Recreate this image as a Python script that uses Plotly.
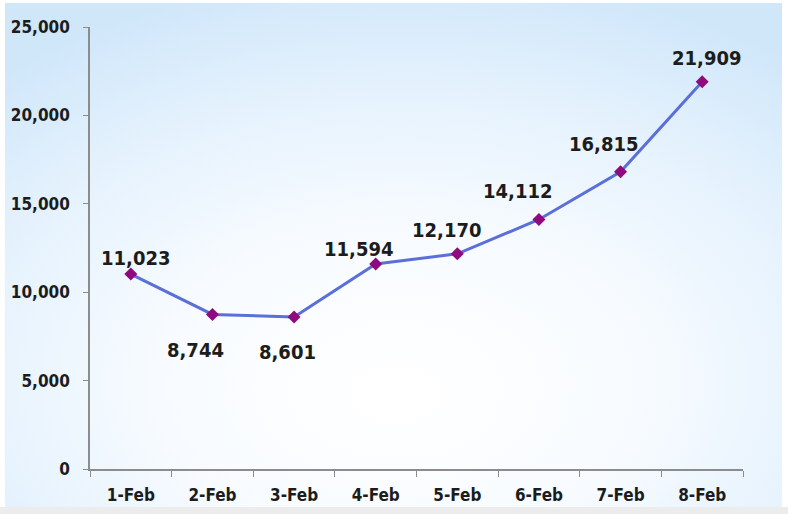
import base64
import plotly.graph_objects as go

dates = ["1-Feb", "2-Feb", "3-Feb", "4-Feb", "5-Feb", "6-Feb", "7-Feb", "8-Feb"]
values = [11023, 8744, 8601, 11594, 12170, 14112, 16815, 21909]
y_ticks = [0, 5000, 10000, 15000, 20000, 25000]
y_tick_text = ["0", "5,000", "10,000", "15,000", "20,000", "25,000"]

# label placement offsets (pixels) relative to each point, as in the reference
label_dx = [5, -17, -7, -17, -11, -21, -17, 4]
label_dy = [16, -36, -35, 15, 24, 29, 28, 24]

font_family = "DejaVu Sans Condensed, DejaVu Sans, sans-serif"
text_color = "#1c1c1c"

# background gradient as an inline SVG
svg = """<svg xmlns='http://www.w3.org/2000/svg' width='777' height='504' viewBox='0 0 777 504' preserveAspectRatio='none'>
<defs>
<radialGradient id='g' cx='0.52' cy='0.72' r='0.78' fx='0.5' fy='0.78'>
<stop offset='0' stop-color='#ffffff'/>
<stop offset='0.4' stop-color='#f7fbff'/>
<stop offset='0.72' stop-color='#e5f2fd'/>
<stop offset='1' stop-color='#d0e7fa'/>
</radialGradient>
</defs>
<rect width='777' height='504' fill='url(#g)'/>
</svg>"""
svg_uri = "data:image/svg+xml;base64," + base64.b64encode(svg.encode()).decode()

fig = go.Figure()
fig.add_trace(go.Scatter(
    x=dates, y=values, mode="lines+markers",
    line=dict(color="#5b6fd8", width=3),
    marker=dict(symbol="diamond", size=10, color="#8e0a7e"),
    cliponaxis=False,
    hoverinfo="skip",
))

for d, v, dx, dy in zip(dates, values, label_dx, label_dy):
    fig.add_annotation(
        x=d, y=v, text=f"{v:,}", showarrow=False,
        xshift=dx, yshift=dy,
        font=dict(family=font_family, size=20, color=text_color, weight="bold"),
    )

fig.add_layout_image(
    source=svg_uri, xref="paper", yref="paper",
    x=-0.1302, y=1.0543, sizex=1.19, sizey=1.1403,
    xanchor="left", yanchor="top", sizing="stretch", layer="below",
)
fig.add_shape(type="rect", xref="paper", yref="paper",
              x0=-0.2, x1=1.2, y0=-0.086, y1=-0.2,
              fillcolor="#ececec", line_width=0, layer="below")

fig.update_layout(
    width=788, height=514,
    margin=dict(l=90, r=45, t=27, b=45),
    paper_bgcolor="#ffffff",
    plot_bgcolor="rgba(0,0,0,0)",
    showlegend=False,
    font=dict(family=font_family, size=17, color=text_color),
)
fig.update_xaxes(
    type="category", range=[-0.5, 7.5], automargin=False,
    showline=True, linecolor="#8c8c8c", linewidth=1.5,
    ticks="outside", ticklen=6, tickcolor="#8c8c8c", tickson="boundaries",
    showgrid=False, zeroline=False,
    tickfont=dict(family=font_family, size=17, color=text_color, weight="bold"),
    ticklabelstandoff=10,
)
fig.update_yaxes(
    range=[0, 25000], tickvals=y_ticks, ticktext=y_tick_text, automargin=False,
    showline=True, linecolor="#8c8c8c", linewidth=1.5,
    ticks="outside", ticklen=5, tickcolor="#8c8c8c",
    showgrid=False, zeroline=False,
    tickfont=dict(family=font_family, size=17, color=text_color, weight="bold"),
    ticklabelstandoff=10,
)

fig.write_html("out.html")
